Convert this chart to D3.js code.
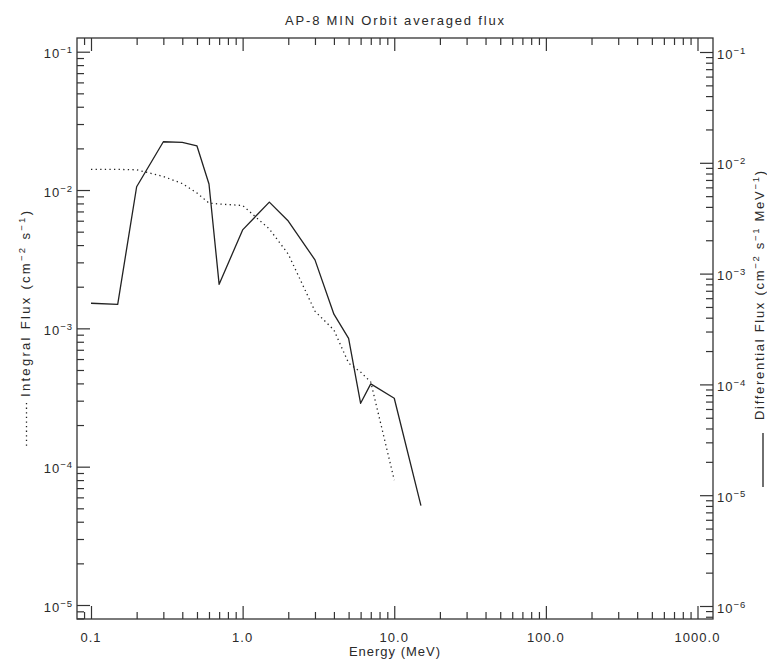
<!DOCTYPE html>
<html>
<head>
<meta charset="utf-8">
<script src="https://cdn.jsdelivr.net/npm/d3@7"></script>
<style>
body { margin: 0; background: #fff; }
svg { display: block; font-family: "Liberation Sans", Arial, sans-serif; }
text { fill: #2a2a2a; font-size: 13px; letter-spacing: 1px; }
.tick line { stroke: #333; stroke-width: 1.2; }
</style>
</head>
<body>
<svg id="chart" width="767" height="661"></svg>
<script>
// energies (MeV) of the AP-8 grid
const energy = [0.1, 0.15, 0.2, 0.3, 0.4, 0.5, 0.6, 0.7, 1.0, 1.5, 2.0, 3.0, 4.0, 5.0, 6.0, 7.0, 10.0, 15.0];
// integral flux, left axis (dotted), stops at 10 MeV
const integralFlux = [0.0141, 0.0141, 0.0140, 0.01253, 0.01114, 0.00951, 0.00805, 0.00792, 0.00773,
    0.00523, 0.00344, 0.00133, 0.000972, 0.000561, 0.000483, 0.000409, 0.000080];
// differential flux, right axis (solid)
const differentialFlux = [5.40e-4, 5.28e-4, 6.08e-3, 0.01549, 0.01531, 0.01418, 0.00644, 8.0e-4, 2.48e-3,
    4.42e-3, 2.98e-3, 1.33e-3, 4.30e-4, 2.60e-4, 6.75e-5, 1.01e-4, 7.50e-5, 8.04e-6];
const xTickValues = [0.1, 1, 10, 100, 1000];
const xTickLabels = ["0.1", "1.0", "10.0", "100.0", "1000.0"];
const leftExponents = [-5, -4, -3, -2, -1];
const rightExponents = [-6, -5, -4, -3, -2, -1];

const box = { left: 77, top: 38, right: 713, bottom: 619 };
const svg = d3.select("#chart");

const x = d3.scaleLog().domain([0.1, 1000]).range([91, 697.5]);
const yLeft = d3.scaleLog().domain([1e-5, 1e-1]).range([605, 51.7]);
const yRight = d3.scaleLog().domain([1e-6, 1e-1]).range([606, 52]);

// all 1..9 x 10^k values that fall inside the box
function logTicks(scale, lo, hi, kmin, kmax) {
    let major = [], minor = [];
    for (let k = kmin; k <= kmax; k++) {
        for (let m = 1; m <= 9; m++) {
            const v = m * Math.pow(10, k);
            const p = scale(v);
            if (p < Math.min(lo, hi) - 0.5 || p > Math.max(lo, hi) + 0.5) continue;
            (m === 1 ? major : minor).push(v);
        }
    }
    return { major, minor };
}

const xt = logTicks(x, box.left, box.right, -2, 3);
const ylt = logTicks(yLeft, box.top, box.bottom, -6, 0);
const yrt = logTicks(yRight, box.top, box.bottom, -7, 0);

function drawTicks(axisFn, scale, values, size, tx, ty) {
    const g = svg.append("g").attr("transform", `translate(${tx},${ty})`)
        .call(axisFn(scale).tickValues(values).tickSize(size).tickFormat(""));
    g.select(".domain").remove();
}

// bottom & top
drawTicks(d3.axisBottom, x, xt.major, -13, 0, box.bottom);
drawTicks(d3.axisBottom, x, xt.minor, -7, 0, box.bottom);
drawTicks(d3.axisTop, x, xt.major, -13, 0, box.top);
drawTicks(d3.axisTop, x, xt.minor, -7, 0, box.top);
// left & right
drawTicks(d3.axisLeft, yLeft, ylt.major, -13, box.left, 0);
drawTicks(d3.axisLeft, yLeft, ylt.minor, -7, box.left, 0);
drawTicks(d3.axisRight, yRight, yrt.major, -13, box.right, 0);
drawTicks(d3.axisRight, yRight, yrt.minor, -7, box.right, 0);

svg.append("rect")
    .attr("x", box.left).attr("y", box.top)
    .attr("width", box.right - box.left).attr("height", box.bottom - box.top)
    .attr("fill", "none").attr("stroke", "#333").attr("stroke-width", 1.3);

// text with superscripts: parts = [[string, isSup], ...]
function richText(t, parts) {
    let up = false;
    parts.forEach(([s, sup]) => {
        const ts = t.append("tspan").text(s);
        if (sup && !up) { ts.attr("dy", -5).attr("font-size", 9.5); up = true; }
        else if (sup) { ts.attr("font-size", 9.5); }
        else if (up) { ts.attr("dy", 5); up = false; }
    });
    return t;
}

// x labels
xTickValues.forEach((v, i) => {
    svg.append("text").attr("x", x(v)).attr("y", 642)
        .attr("text-anchor", "middle").text(xTickLabels[i]);
});

// left labels
leftExponents.forEach(e => {
    const t = svg.append("text").attr("x", 73).attr("y", yLeft(Math.pow(10, e)) + 6.6)
        .attr("text-anchor", "end");
    richText(t, [["10", false], ["−" + Math.abs(e), true]]);
});

// right labels
rightExponents.forEach(e => {
    const t = svg.append("text").attr("x", 717).attr("y", yRight(Math.pow(10, e)) + 6.6)
        .attr("text-anchor", "start");
    richText(t, [["10", false], ["−" + Math.abs(e), true]]);
});

// titles
svg.append("text").attr("x", 395).attr("y", 25).attr("text-anchor", "middle")
    .attr("textLength", 220).attr("lengthAdjust", "spacing")
    .text("AP-8 MIN Orbit averaged flux");
svg.append("text").attr("x", 395).attr("y", 656).attr("text-anchor", "middle")
    .text("Energy (MeV)");

const lt = svg.append("text").attr("transform", "translate(29.5,397) rotate(-90)")
    .attr("textLength", 187).attr("lengthAdjust", "spacing");
richText(lt, [["Integral Flux (cm", false], ["−2", true], [" s", false], ["−1", true], [")", false]]);

const rt = svg.append("text").attr("transform", "translate(764,420) rotate(-90)")
    .attr("textLength", 250).attr("lengthAdjust", "spacing");
richText(rt, [["Differential Flux (cm", false], ["−2", true], [" s", false], ["−1", true],
    [" MeV", false], ["−1", true], [")", false]]);

// legend marks next to the axis titles
svg.append("line").attr("x1", 26.5).attr("x2", 26.5).attr("y1", 403).attr("y2", 449)
    .attr("stroke", "#222").attr("stroke-width", 1.3).attr("stroke-dasharray", "1.3,3.3");
svg.append("line").attr("x1", 763).attr("x2", 763).attr("y1", 433).attr("y2", 487)
    .attr("stroke", "#222").attr("stroke-width", 1.3);

// curves
svg.append("clipPath").attr("id", "plotclip").append("rect")
    .attr("x", box.left).attr("y", box.top)
    .attr("width", box.right - box.left).attr("height", box.bottom - box.top);

const lineLeft = d3.line().x((d, i) => x(energy[i])).y(d => yLeft(d));
const lineRight = d3.line().x((d, i) => x(energy[i])).y(d => yRight(d));

svg.append("path").datum(integralFlux).attr("clip-path", "url(#plotclip)")
    .attr("d", lineLeft).attr("fill", "none").attr("stroke", "#222")
    .attr("stroke-width", 1.3).attr("stroke-dasharray", "1.3,3.3");

svg.append("path").datum(differentialFlux).attr("clip-path", "url(#plotclip)")
    .attr("d", lineRight).attr("fill", "none").attr("stroke", "#222")
    .attr("stroke-width", 1.3).attr("stroke-linejoin", "round");
</script>
</body>
</html>
